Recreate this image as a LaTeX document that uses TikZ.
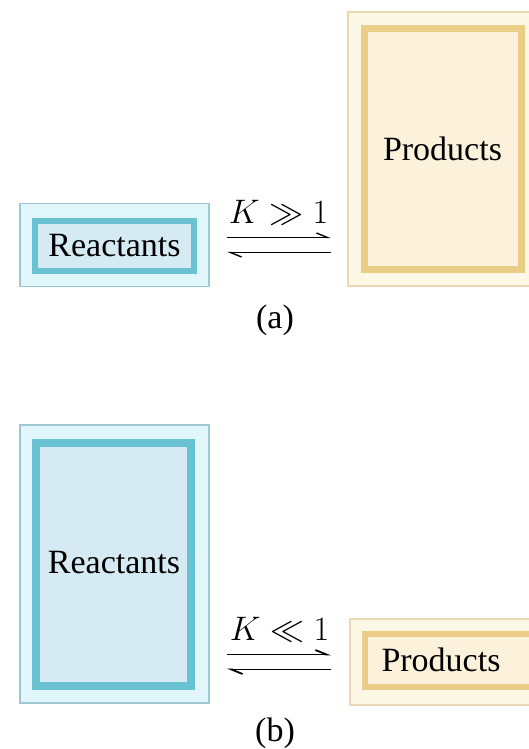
\RequirePackage{fix-cm}
\documentclass[tikz,border=0pt]{standalone}
\usepackage{fontspec}
\setmainfont{Liberation Serif}
\usetikzlibrary{arrows.meta}
\definecolor{rimblue}{RGB}{160,200,212}
\definecolor{bandblue}{RGB}{224,246,250}
\definecolor{edgeblue}{RGB}{104,194,210}
\definecolor{fillblue}{RGB}{214,234,244}
\definecolor{rimtan}{RGB}{232,216,182}
\definecolor{bandtan}{RGB}{253,247,230}
\definecolor{edgetan}{RGB}{234,206,136}
\definecolor{filltan}{RGB}{252,242,220}

\begin{document}
\begin{tikzpicture}[x=1pt, y=-1pt, every node/.style={font=\fontsize{34}{40}\selectfont, inner sep=1pt, outer sep=0pt}]
        \useasboundingbox (0,0) rectangle (529,749);
        \clip (0,0) rectangle (529,749);

        % (a) reactants small, products large
        \node[rectangle, draw=rimblue, fill=bandblue, line width=1.5pt, minimum width=189, minimum height=83] (ra) at (114.5,245) {};
        \node[rectangle, draw=edgeblue, fill=fillblue, line width=6pt, minimum width=159, minimum height=50] (ra-in) at (114.5,245.5) {Reactants};
        \node[rectangle, draw=rimtan, fill=bandtan, line width=1.5pt, minimum width=190, minimum height=274] (pa) at (443,149) {};
        \node[rectangle, draw=edgetan, fill=filltan, line width=7pt, minimum width=157, minimum height=241] (pa-in) at (442.5,149) {Products};

        \draw[line width=1.4pt, -{Straight Barb[left, length=11pt, width=9pt]}, shorten <=18pt, shorten >=17pt]
              ([yshift=7.5pt]ra.east) -- ([yshift=7.5pt]ra.east -| pa.west) node[midway, above=12pt] (ka) {$K \gg 1$};
        \draw[line width=1.4pt, -{Straight Barb[left, length=11pt, width=9pt]}, shorten <=17pt, shorten >=18pt]
              ([yshift=-7.5pt]ra.east -| pa.west) -- ([yshift=-7.5pt]ra.east);
        \node (la) at (275,320) {(a)};

        % (b) reactants large, products small
        \node[rectangle, draw=rimblue, fill=bandblue, line width=1.5pt, minimum width=189, minimum height=278] (rb) at (114.5,564) {};
        \node[rectangle, draw=edgeblue, fill=fillblue, line width=8pt, minimum width=155, minimum height=243] (rb-in) at (113.5,564.5) {};
        \node (rb-txt) at (114,563) {Reactants};
        \node[rectangle, draw=rimtan, fill=bandtan, line width=1.5pt, minimum width=190, minimum height=86] (pb) at (445,662) {};
        \node[rectangle, draw=edgetan, fill=filltan, line width=6pt, minimum width=180, minimum height=53] (pb-in) at (455,660.5) {};
        \node (pb-txt) at (441,660) {Products};

        \draw[line width=1.8pt, -{Straight Barb[left, length=11pt, width=9pt]}, shorten <=18pt, shorten >=19pt]
              ([yshift=7.5pt]rb.east |- pb.west) -- ([yshift=7.5pt]pb.west) node[midway, above=12pt] (kb) {$K \ll 1$};
        \draw[line width=1.8pt, -{Straight Barb[left, length=11pt, width=9pt]}, shorten <=19pt, shorten >=18pt]
              ([yshift=-7.5pt]pb.west) -- ([yshift=-7.5pt]rb.east |- pb.west);
        \node (lb) at (275,733) {(b)};
      \end{tikzpicture}
\end{document}
